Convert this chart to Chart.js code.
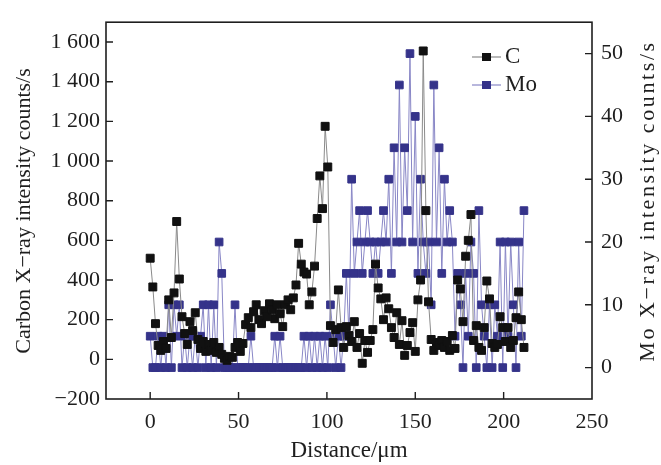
<!DOCTYPE html>
<html>
<head>
<meta charset="utf-8">
<script src="https://cdn.jsdelivr.net/npm/chart.js@4.4.1/dist/chart.umd.min.js"></script>
<style>
  html, body { margin: 0; padding: 0; background: #fff; }
</style>
</head>
<body>
<canvas id="chart" width="661" height="465"></canvas>
<script>
// distancia a lo largo de la línea de barrido (µm)
const distance = [0,1.5,3,4.5,6,7.5,9,10.5,12,13.5,15,16.5,18,19.5,21,22.5,24,25.5,27,28.5,
  30,31.5,33,34.5,36,37.5,39,40.5,42,43.5,45,46.5,48,49.5,51,52.5,54,55.5,57,58.5,
  60,61.5,63,64.5,66,67.5,69,70.5,72,73.5,75,76.5,78,79.5,81,82.5,84,85.5,87,88.5,
  90,91.5,93,94.5,96,97.5,99,100.5,102,103.5,105,106.5,108,109.5,111,112.5,114,115.5,117,118.5,
  120,121.5,123,124.5,126,127.5,129,130.5,132,133.5,135,136.5,138,139.5,141,142.5,144,145.5,147,148.5,
  150,151.5,153,154.5,156,157.5,159,160.5,162,163.5,165,166.5,168,169.5,171,172.5,174,175.5,177,178.5,
  180,181.5,183,184.5,186,187.5,189,190.5,192,193.5,195,196.5,198,199.5,201,202.5,204,205.5,207,208.5,
  210,211.5];

// C (eje izquierdo)
const carbon = [510,365,180,70,45,90,55,300,110,335,
  695,405,215,130,75,190,145,235,100,55,
  90,40,75,45,85,35,60,25,5,-5,
  15,10,60,85,40,80,175,210,160,240,
  275,200,180,245,215,280,250,205,275,230,
  165,275,300,250,310,375,585,480,440,430,
  275,340,470,710,925,760,1175,970,170,85,
  150,350,160,60,165,120,90,190,60,130,
  -20,95,35,95,150,480,360,305,200,310,
  255,160,110,235,75,195,20,70,135,185,
  40,300,400,1555,750,290,100,45,85,70,
  95,60,90,45,120,55,400,355,190,520,
  600,730,95,170,60,45,160,395,305,80,
  60,75,215,160,90,160,60,95,210,340,
  200,60];

// Mo (eje derecho)
const molybdenum = [5,0,0,5,0,5,0,10,0,10,
  5,10,0,5,0,5,0,5,0,5,
  10,0,10,0,10,0,20,15,0,0,
  0,0,10,0,0,0,0,0,5,0,
  0,0,0,0,0,0,0,5,0,5,
  0,0,0,0,0,0,0,0,5,0,
  5,0,5,0,5,0,5,0,10,5,
  0,5,0,5,15,5,30,15,20,25,
  15,20,25,20,15,20,15,20,25,20,
  30,15,35,20,45,20,35,25,50,20,
  40,15,30,20,15,20,10,45,20,35,
  15,30,20,25,20,5,15,10,0,15,
  5,20,15,0,25,10,5,0,10,0,
  10,5,20,0,20,5,20,10,0,20,
  5,25];

const xTicks = [0, 50, 100, 150, 200, 250];
const leftTicks = [-200, 0, 200, 400, 600, 800, 1000, 1200, 1400, 1600];
const rightTicks = [0, 10, 20, 30, 40, 50];

const FONT = "'Liberation Serif', 'Times New Roman', serif";
const INK = '#1e1e1e';

function fmt(v) {
  if (v >= 1000) return Math.floor(v / 1000) + ' ' + String(v % 1000).padStart(3, '0');
  if (v < 0) return '\u2212' + Math.abs(v);
  return String(v);
}

// marco, marcas de escala hacia dentro, títulos y leyenda
const decor = {
  id: 'decor',
  afterDraw(chart) {
    const ctx = chart.ctx;
    const { left, right, top, bottom } = chart.chartArea;
    const sx = chart.scales.x, sy = chart.scales.y, sy1 = chart.scales.y1;
    ctx.save();
    ctx.strokeStyle = INK;
    ctx.lineWidth = 1.6;
    ctx.strokeRect(left, top, right - left, bottom - top);
    ctx.lineWidth = 1.4;
    ctx.beginPath();
    xTicks.forEach(v => {
      if (v >= 250) return;
      const px = sx.getPixelForValue(v);
      ctx.moveTo(px, bottom); ctx.lineTo(px, bottom - 7);
    });
    leftTicks.forEach(v => {
      if (v <= -200) return;
      const py = sy.getPixelForValue(v);
      ctx.moveTo(left, py); ctx.lineTo(left + 7, py);
    });
    rightTicks.forEach(v => {
      const py = sy1.getPixelForValue(v);
      ctx.moveTo(right, py); ctx.lineTo(right - 7, py);
    });
    ctx.stroke();

    ctx.fillStyle = INK;
    ctx.textAlign = 'center';
    ctx.textBaseline = 'middle';

    // título izquierdo
    ctx.save();
    ctx.font = '22px ' + FONT;
    ctx.translate(24, 211);
    ctx.rotate(-Math.PI / 2);
    ctx.fillText('Carbon X\u2212ray intensity counts/s', 0, 0);
    ctx.restore();

    // título derecho (leído de abajo arriba)
    ctx.save();
    ctx.font = '22px ' + FONT;
    ctx.letterSpacing = '2.6px';
    ctx.translate(648, 201);
    ctx.rotate(-Math.PI / 2);
    ctx.fillText('Mo X\u2212ray intensity counts/s', 0, 0);
    ctx.restore();
    ctx.restore();

    // leyenda
    ctx.save();
    const items = [
      { label: 'C', line: '#8a8a8a', fill: '#111', y: 57 },
      { label: 'Mo', line: '#8886c6', fill: '#35338a', y: 85 }
    ];
    ctx.font = '23px ' + FONT;
    ctx.textBaseline = 'middle';
    items.forEach(it => {
      ctx.strokeStyle = it.line;
      ctx.lineWidth = 1.2;
      ctx.beginPath();
      ctx.moveTo(472, it.y); ctx.lineTo(501, it.y);
      ctx.stroke();
      ctx.fillStyle = it.fill;
      ctx.fillRect(482, it.y - 4, 9, 8);
      ctx.fillStyle = INK;
      ctx.fillText(it.label, 505, it.y);
    });
    ctx.restore();
  }
};

new Chart(document.getElementById('chart'), {
  type: 'line',
  data: {
    datasets: [
      {
        label: 'C',
        data: distance.map((d, i) => ({ x: d, y: carbon[i] })),
        yAxisID: 'y',
        borderColor: '#8a8a8a',
        borderWidth: 1,
        pointStyle: 'rect',
        pointRadius: 5.6,
        pointBackgroundColor: '#111',
        pointBorderColor: '#111',
        pointBorderWidth: 1
      },
      {
        label: 'Mo',
        data: distance.map((d, i) => ({ x: d, y: molybdenum[i] })),
        yAxisID: 'y1',
        borderColor: '#8886c6',
        borderWidth: 1,
        pointStyle: 'rect',
        pointRadius: 5.4,
        pointBackgroundColor: '#35338a',
        pointBorderColor: '#35338a',
        pointBorderWidth: 1
      }
    ]
  },
  options: {
    responsive: false,
    animation: false,
    layout: { padding: { top: 10, left: 0, right: 0, bottom: 0 } },
    plugins: { legend: { display: false }, tooltip: { enabled: false } },
    scales: {
      x: {
        type: 'linear',
        position: 'bottom',
        min: -25,
        max: 250,
        afterBuildTicks: s => { s.ticks = xTicks.map(v => ({ value: v })); },
        afterFit: s => { s.height = 66; },
        grid: { drawOnChartArea: false, drawTicks: false },
        border: { display: false },
        ticks: { color: INK, padding: 10, font: { family: FONT, size: 22 } },
        title: {
          display: true,
          text: 'Distance/\u03bcm',
          color: INK,
          padding: { top: 0, bottom: 1 },
          font: { family: FONT, size: 23, lineHeight: 1.1 }
        }
      },
      y: {
        type: 'linear',
        position: 'left',
        min: -200,
        max: 1700,
        afterBuildTicks: s => { s.ticks = leftTicks.map(v => ({ value: v })); },
        afterFit: s => { s.width = 106; },
        grid: { drawOnChartArea: false, drawTicks: false },
        border: { display: false },
        ticks: { color: INK, padding: 6, font: { family: FONT, size: 22 }, callback: v => fmt(v) }
      },
      y1: {
        type: 'linear',
        position: 'right',
        min: -5,
        max: 55,
        afterBuildTicks: s => { s.ticks = rightTicks.map(v => ({ value: v })); },
        afterFit: s => { s.width = 69; },
        grid: { drawOnChartArea: false, drawTicks: false },
        border: { display: false },
        ticks: { color: INK, padding: 9, font: { family: FONT, size: 22 } }
      }
    }
  },
  plugins: [decor]
});
</script>
</body>
</html>
